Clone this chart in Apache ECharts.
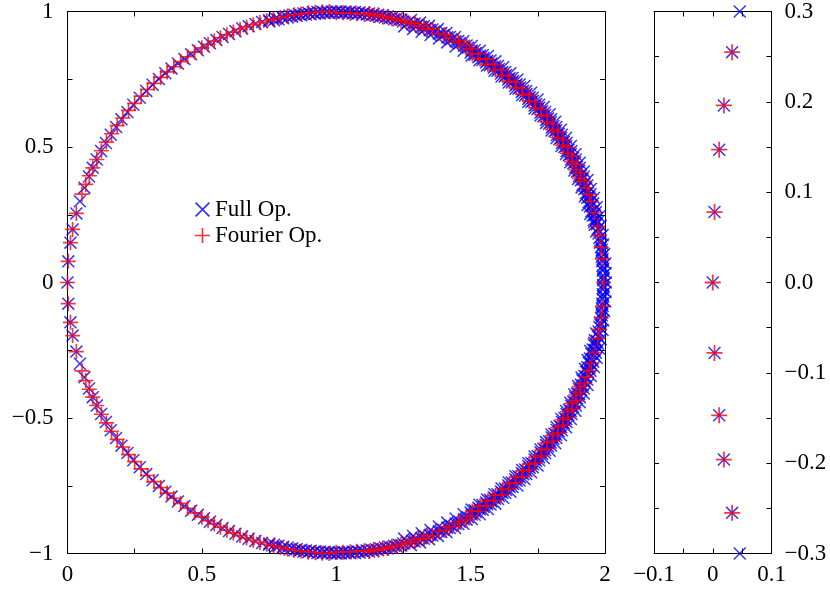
<!DOCTYPE html>
<html><head><meta charset="utf-8">
<script src="https://cdn.jsdelivr.net/npm/echarts@6/dist/echarts.min.js"></script>
<style>html,body{margin:0;padding:0;background:#fff}#c{width:830px;height:592px}</style>
</head><body><div id="c"></div>
<script>
// Eigenvalues (upper half-plane incl. real ones); the spectrum is symmetric (conjugate pairs).
const fullX = [0,0.003,0.011,0.019,0.033,0.046,0.063,0.080,0.094,0.109,0.125,0.143,0.161,0.181,0.201,0.223,0.245,0.269,0.293,0.317,0.340,0.364,0.387,0.411,0.435,0.460,0.485,0.508,0.530,0.554,0.577,0.601,0.625,0.650,0.674,0.699,0.724,0.750,0.775,0.801,0.826,0.844,0.861,0.878,0.896,0.913,0.930,0.948,0.965,0.983,1.000,
 0.991,0.974,0.957,0.939,0.922,0.905,0.887,0.870,0.853,0.836,0.819,0.802,0.785,0.768,0.751,
 1.017,1.035,1.052,1.070,1.087,1.105,1.122,1.139,1.156,1.174,1.191,1.208,1.225,1.242,
 1.009,1.026,1.043,1.061,1.078,1.095,1.113,1.130,1.147,1.164,1.181,1.198,1.215,1.232,1.249,1.266,1.283,1.299,1.316,1.332,1.348,1.365,1.381,1.397,1.413,1.428,1.444,1.459,1.475,1.490,
 1.253,1.278,1.286,1.312,1.318,1.345,1.351,1.378,1.382,1.410,1.413,1.442,1.444,1.473,1.474,1.504,1.504,1.534,1.533,1.564,1.561,1.592,1.589,1.621,1.615,1.648,1.642,1.674,1.667,1.700,1.692,1.725,1.715,1.749,1.738,1.772,1.760,1.794,1.781,1.815,1.801,1.836,1.820,1.855,1.838,1.873,1.855,1.890,1.871,1.906,1.886,1.921,1.900,1.935,1.913,1.947,1.925,1.959,1.935,1.969,1.945,1.978,1.960,1.984,1.967,1.991,1.983,1.993,1.988,1.997,1.991,2.001,1.994,2.002,1.995,2.003,
 1.993,1.993,1.992,1.991,1.990,1.988,1.987,1.985,1.982,1.979,1.976,1.973,1.969,1.966,1.961,1.957,1.952,1.947,1.942,1.936,1.930,1.924,1.917,1.911,1.904,1.896,1.889,1.881,1.873,1.864,1.856,1.847,1.837,1.828,1.818,1.808,1.798,1.788,1.777,1.766,1.755,1.744,1.732,1.720,1.708,1.696,1.684,1.671,1.658,1.645,1.632,1.618,1.605,1.591,1.577,1.562,1.548,1.534,1.519,1.504,
 1.962,1.958,1.954,1.949,1.944,1.939,1.934,1.929,1.923,1.916,1.910,1.903,1.896,1.889,1.882,1.874,1.866,1.857,1.849,1.840,1.831,1.821,1.812,1.802,1.792,1.781,1.771,1.760,1.749,1.738,1.726,1.715,1.703,1.690,1.678,1.666,1.653,1.640,1.627,1.613,1.600,1.586,1.572,1.558,1.544,1.529,1.515,1.500,
 1.974,1.966,1.956,1.946,1.934,1.921,1.906,1.891,1.875,1.857,1.839,1.819,1.799,1.777,1.755,1.731,1.707,1.682,1.656,1.629,1.602,1.574,1.545,1.515,1.485,1.454,1.423,1.391,1.358,1.326,1.292];
const fullY = [0,0.078,0.147,0.196,0.255,0.300,0.350,0.391,0.423,0.454,0.485,0.515,0.545,0.574,0.602,0.629,0.656,0.682,0.707,0.730,0.751,0.772,0.790,0.808,0.825,0.842,0.857,0.870,0.883,0.895,0.906,0.917,0.927,0.937,0.946,0.954,0.961,0.968,0.974,0.980,0.985,0.988,0.990,0.993,0.995,0.996,0.998,0.999,0.999,1.000,1.000,
 0.995,0.995,0.994,0.993,0.992,0.990,0.989,0.986,0.984,0.981,0.978,0.975,0.971,0.968,0.963,
 1.000,0.999,0.999,0.998,0.996,0.995,0.993,0.990,0.988,0.985,0.982,0.978,0.974,0.970,
 0.995,0.995,0.994,0.993,0.992,0.990,0.989,0.986,0.984,0.981,0.978,0.975,0.971,0.968,0.963,0.959,0.954,0.949,0.944,0.938,0.932,0.926,0.919,0.912,0.905,0.898,0.890,0.883,0.874,0.866,
 0.945,0.969,0.935,0.959,0.925,0.947,0.913,0.935,0.900,0.921,0.886,0.906,0.871,0.890,0.855,0.873,0.838,0.855,0.820,0.836,0.801,0.816,0.781,0.794,0.760,0.772,0.738,0.749,0.715,0.725,0.692,0.700,0.667,0.675,0.642,0.648,0.616,0.621,0.589,0.593,0.561,0.564,0.533,0.534,0.504,0.504,0.474,0.473,0.444,0.442,0.413,0.410,0.382,0.378,0.351,0.345,0.318,0.312,0.286,0.278,0.253,0.244,0.222,0.209,0.188,0.175,0.156,0.140,0.121,0.105,0.087,0.070,0.052,0.035,0.017,0,
 0.009,0.026,0.043,0.061,0.078,0.095,0.112,0.130,0.147,0.164,0.181,0.198,0.215,0.232,0.249,0.265,0.282,0.299,0.315,0.331,0.348,0.364,0.380,0.396,0.412,0.427,0.443,0.459,0.474,0.489,0.504,0.519,0.534,0.548,0.562,0.577,0.591,0.605,0.618,0.632,0.645,0.658,0.671,0.684,0.696,0.708,0.720,0.732,0.744,0.755,0.766,0.777,0.788,0.798,0.808,0.818,0.828,0.837,0.847,0.856,
 0.213,0.230,0.247,0.263,0.280,0.296,0.313,0.329,0.345,0.361,0.377,0.393,0.409,0.424,0.440,0.455,0.470,0.485,0.500,0.515,0.529,0.544,0.558,0.572,0.586,0.600,0.613,0.627,0.640,0.653,0.666,0.678,0.690,0.703,0.715,0.726,0.738,0.749,0.760,0.771,0.781,0.792,0.802,0.812,0.821,0.831,0.840,0.849,
 0.225,0.259,0.292,0.326,0.358,0.391,0.423,0.454,0.485,0.515,0.545,0.574,0.602,0.629,0.656,0.682,0.707,0.731,0.755,0.777,0.799,0.819,0.839,0.857,0.875,0.891,0.906,0.921,0.934,0.946,0.956];
const fourierX = [0,0.003,0.011,0.019,0.033,0.054,0.068,0.081,0.094,0.109,0.126,0.145,0.164,0.185,0.206,0.227,0.250,0.274,0.298,0.322,0.347,0.371,0.396,0.421,0.447,0.473,0.500,0.523,0.546,0.569,0.593,0.617,0.642,0.666,0.691,0.716,0.741,0.767,0.792,0.818,0.844,0.869,0.896,0.922,0.948,0.974,
 1.000,1.026,1.052,1.078,1.104,1.139,1.173,1.207,1.241,1.274,1.307,1.340,1.381,1.421,1.459,1.498,1.527,1.556,1.585,1.613,1.640,1.666,1.691,1.716,1.739,1.762,1.784,1.805,1.825,1.844,1.862,1.879,1.894,1.909,1.923,1.932,1.941,1.949,1.961,1.973,1.980,1.986,1.991,1.995,
 1.905,1.891,1.876,1.860,1.843,1.824,1.805,1.785,1.764,1.742,1.719,1.695,1.670,1.645,1.619,1.592,1.564,1.535,1.506,
 1.485,1.454,1.407,1.358,1.326,1.292,1.259,1.225,1.191,1.156,1.122];
const fourierY = [0,0.078,0.147,0.196,0.255,0.326,0.362,0.394,0.423,0.454,0.486,0.518,0.549,0.579,0.607,0.635,0.661,0.688,0.712,0.735,0.757,0.777,0.796,0.815,0.833,0.850,0.866,0.879,0.891,0.903,0.914,0.924,0.934,0.943,0.951,0.959,0.966,0.972,0.978,0.983,0.988,0.991,0.995,0.997,0.999,1.000,
 0.995,0.995,0.994,0.992,0.990,0.985,0.980,0.973,0.965,0.957,0.946,0.935,0.919,0.902,0.883,0.862,0.844,0.825,0.805,0.784,0.762,0.739,0.716,0.691,0.666,0.640,0.613,0.585,0.556,0.527,0.498,0.467,0.436,0.405,0.373,0.349,0.324,0.299,0.258,0.207,0.173,0.130,0.087,0,
 0.384,0.415,0.446,0.477,0.506,0.535,0.564,0.592,0.619,0.645,0.670,0.695,0.719,0.742,0.764,0.785,0.805,0.824,0.843,
 0.875,0.891,0.914,0.934,0.946,0.956,0.966,0.974,0.982,0.988,0.993];
const seriesNames = ['Full Op.', 'Fourier Op.'];
const seriesColors = ['#0000ff', '#ff0000'];

function withConjugates(xs, ys) {
  const out = [];
  xs.forEach((x, i) => { out.push([x, ys[i]]); if (ys[i] !== 0) out.push([x, -ys[i]]); });
  return out;
}
function insetOnly(pts) { return pts.filter(p => Math.abs(p[1]) <= 0.3001 && Math.abs(p[0]) <= 0.1001); }

const fullPts = withConjugates(fullX, fullY);
const fourierPts = withConjugates(fourierX, fourierY);

const CROSS = 'path://M0,8 L8,0 L100,92 L92,100 Z M92,0 L100,8 L8,100 L0,92 Z';
const PLUS = 'path://M44.5,0 L55.5,0 L55.5,100 L44.5,100 Z M0,44.5 L100,44.5 L100,55.5 L0,55.5 Z';
const FONT = "'Liberation Serif','Times New Roman',serif";
const minus = s => s.replace('-', '\u2212');

const lineStyle = { color: '#000', width: 1 };
function mkAxis(o) {
  return Object.assign({
    type: 'value', splitLine: { show: false },
    axisLine: { show: true, onZero: false, lineStyle },
    axisTick: { show: true, inside: true, length: 5, lineStyle },
    axisLabel: { show: false }
  }, o);
}
const lab = (fmt, margin) => ({ show: true, formatter: fmt, fontFamily: FONT, fontSize: 23, color: '#000', margin, showMinLabel: true, showMaxLabel: true });
const fmtMain = v => { const k = Math.round(v * 4); if (k % 2) return ''; return minus(String(k / 4)); };
const fmtInsetY = v => { const k = Math.round(v * 20); if (k % 2) return ''; return minus((k / 20).toFixed(1)); };
const fmtInsetX = v => { const k = Math.round(v * 20); if (k % 2) return ''; if (k === 0) return '0'; return minus((k / 20).toFixed(1)); };

const chart = echarts.init(document.getElementById('c'), null, { renderer: 'canvas' });
chart.setOption({
  animation: false,
  backgroundColor: '#fff',
  grid: [
    { left: 67.5, top: 10, width: 537.5, height: 543.5 },
    { left: 654, top: 10, width: 117.5, height: 543.5 }
  ],
  xAxis: [
    mkAxis({ gridIndex: 0, min: 0, max: 2, interval: 0.25, position: 'bottom', axisLabel: lab(fmtMain, 10) }),
    mkAxis({ gridIndex: 0, min: 0, max: 2, interval: 0.25, position: 'top' }),
    mkAxis({ gridIndex: 1, min: -0.1, max: 0.1, interval: 0.05, position: 'bottom', axisLabel: lab(fmtInsetX, 10) }),
    mkAxis({ gridIndex: 1, min: -0.1, max: 0.1, interval: 0.05, position: 'top' })
  ],
  yAxis: [
    mkAxis({ gridIndex: 0, min: -1, max: 1, interval: 0.25, position: 'left', axisLabel: lab(fmtMain, 14) }),
    mkAxis({ gridIndex: 0, min: -1, max: 1, interval: 0.25, position: 'right' }),
    mkAxis({ gridIndex: 1, min: -0.3, max: 0.3, interval: 0.05, position: 'right', axisLabel: lab(fmtInsetY, 13) }),
    mkAxis({ gridIndex: 1, min: -0.3, max: 0.3, interval: 0.05, position: 'left' })
  ],
  legend: {
    left: 190, top: 193, orient: 'vertical', itemWidth: 15, itemHeight: 15, itemGap: 3,
    selectedMode: false,
    textStyle: { fontFamily: FONT, fontSize: 23, color: '#000' },
    data: [{ name: seriesNames[0], icon: CROSS }, { name: seriesNames[1], icon: PLUS }]
  },
  series: [
    { type: 'scatter', name: seriesNames[0], xAxisIndex: 0, yAxisIndex: 0, data: fullPts, symbol: CROSS, symbolSize: 13, clip: false, itemStyle: { color: seriesColors[0] } },
    { type: 'scatter', name: seriesNames[1], xAxisIndex: 0, yAxisIndex: 0, data: fourierPts, symbol: PLUS, symbolSize: 15, clip: false, itemStyle: { color: seriesColors[1] } },
    { type: 'scatter', name: seriesNames[0], xAxisIndex: 2, yAxisIndex: 2, data: insetOnly(fullPts), symbol: CROSS, symbolSize: 13, clip: false, itemStyle: { color: seriesColors[0] } },
    { type: 'scatter', name: seriesNames[1], xAxisIndex: 2, yAxisIndex: 2, data: insetOnly(fourierPts), symbol: PLUS, symbolSize: 16, clip: false, itemStyle: { color: seriesColors[1] } }
  ]
});
</script></body></html>
